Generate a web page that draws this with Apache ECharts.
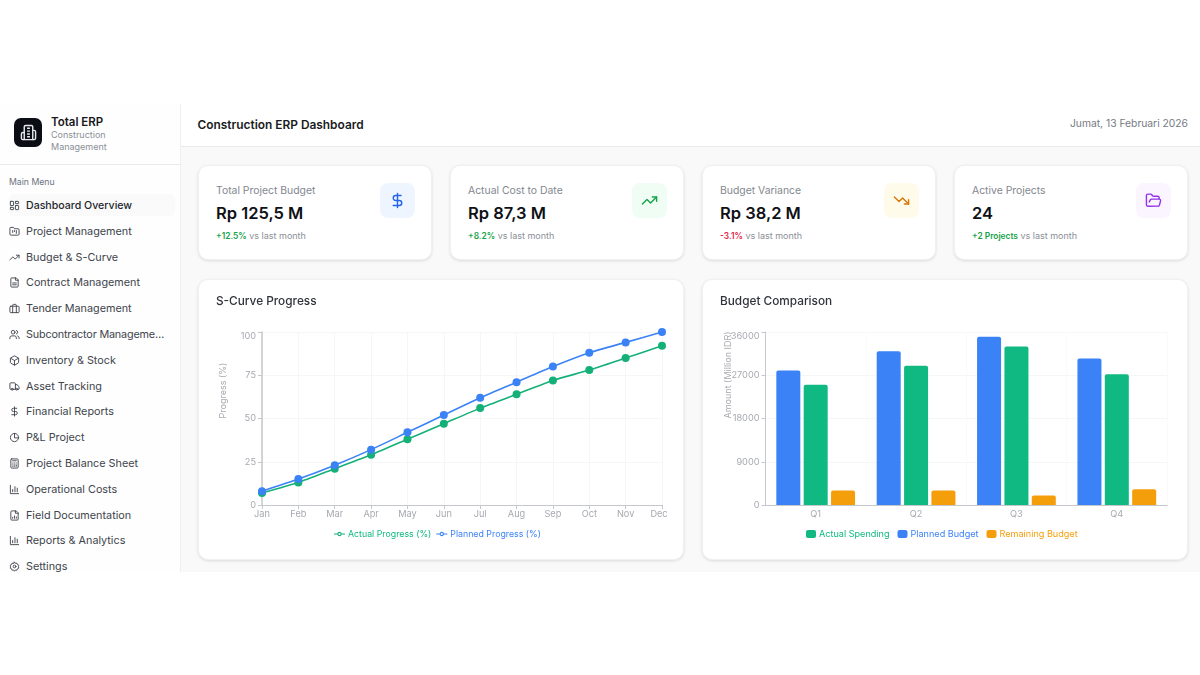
<!DOCTYPE html>
<html><head><meta charset="utf-8">
<script src="https://cdn.jsdelivr.net/npm/echarts@6/dist/echarts.min.js"></script>
<style>
*{box-sizing:border-box}
html,body{margin:0;padding:0;width:1200px;height:675px;background:#fff;overflow:hidden;font-family:Inter,"Noto Sans",sans-serif}
#app{position:absolute;left:0;top:104px;width:1200px;height:468px;overflow:hidden;background:#f9f9fa}
#side{position:absolute;left:0;top:0;width:181px;height:468px;background:#fefefe;border-right:1px solid #eeeff1}
#brand{position:absolute;left:0;top:0;width:180px;height:61px;border-bottom:1px solid #e9eaec}
#logo{position:absolute;left:14px;top:14px;width:28px;height:29px;background:#0b0d14;border-radius:7px;display:flex;align-items:center;justify-content:center}
#bt{position:absolute;left:51px;top:11px;font-size:11.5px;font-weight:600;color:#16181d}
#bs{position:absolute;left:51px;top:25px;font-size:9px;line-height:11.5px;color:#8b8f97;width:90px}
#mm{position:absolute;left:9px;top:73px;font-size:8.7px;color:#6b7280}
.mi{position:absolute;left:9px;width:166px;height:22px;display:flex;align-items:center;font-size:10.8px;color:#40444c;white-space:nowrap}
.mi.on{background:#fafafa;border-radius:5px;font-weight:500;font-size:10.6px;color:#24272e}
.mi svg{margin-left:0;margin-right:6px;flex:none;width:11px;height:11px}
#head{position:absolute;left:181px;top:0;width:1019px;height:43px;background:#fff;border-bottom:1px solid #e9eaec}
#ht{position:absolute;left:16.5px;top:12.5px;font-size:11.9px;font-weight:600;color:#181a20}
#hd{position:absolute;right:12px;top:13px;font-size:10.3px;color:#777b84}
.card{position:absolute;background:#fff;border-radius:10px;border:1px solid #f0f1f3;box-shadow:0 1px 3px rgba(0,0,0,.12)}
.kl{position:absolute;left:17px;top:17.5px;font-size:10.4px;color:#83878f;white-space:nowrap}
.kv{position:absolute;left:17px;top:37px;font-size:16.5px;font-weight:600;color:#0f1116;white-space:nowrap}
.kd{position:absolute;left:17px;top:64px;font-size:9px;color:#8b8f97;white-space:nowrap}
.kd b{font-weight:600;font-size:8.4px}
.ki{position:absolute;left:181px;top:17px;width:35px;height:35px;border-radius:8px;display:flex;align-items:center;justify-content:center}
.ct{position:absolute;left:17px;top:14px;font-size:11.8px;font-weight:500;color:#30333a;white-space:nowrap;z-index:2}
.ch{position:absolute;left:-1px;top:-1px;width:486px;height:281px}
</style></head><body>
<div id="app">
 <div id="side">
  <div id="brand">
   <div id="logo"><svg width="17" height="17" viewBox="0 0 24 24" fill="none" stroke="#e5e7eb" stroke-width="2"><path d="M6 22V4a2 2 0 0 1 2-2h8a2 2 0 0 1 2 2v18Z"/><path d="M6 12H4a2 2 0 0 0-2 2v6a2 2 0 0 0 2 2h2"/><path d="M18 9h2a2 2 0 0 1 2 2v9a2 2 0 0 1-2 2h-2"/><path d="M10 6h4M10 10h4M10 14h4M10 18h4"/></svg></div>
   <div id="bt">Total ERP</div>
   <div id="bs">Construction<br>Management</div>
  </div>
  <div id="mm">Main Menu</div>
  <div id="menu"></div>
 </div>
 <div id="head"><div id="ht">Construction ERP Dashboard</div><div id="hd">Jumat, 13 Februari 2026</div></div>
 <div id="cards"></div>
 <div class="card" style="left:198px;top:175px;width:486px;height:281px"><div class="ct">S-Curve Progress</div><div class="ch" id="c1"></div></div>
 <div class="card" style="left:702px;top:175px;width:486px;height:281px"><div class="ct">Budget Comparison</div><div class="ch" id="c2"></div></div>
</div>
<script>
// ---- chart data ----
const months = ['Jan','Feb','Mar','Apr','May','Jun','Jul','Aug','Sep','Oct','Nov','Dec'];
const actualProgress  = [7,13,21,29,38,47,56,64,72,78,85,92];
const plannedProgress = [8,15,23,32,42,52,62,71,80,88,94,100];
const quarters = ['Q1','Q2','Q3','Q4'];
const plannedBudget   = [28000,32000,35000,30500];
const actualSpending  = [25000,29000,33000,27200];
const remainingBudget = [3000,3000,2000,3300];
// ---- page text ----
const menuItems = ['Dashboard Overview','Project Management','Budget & S-Curve','Contract Management','Tender Management','Subcontractor Manageme…','Inventory & Stock','Asset Tracking','Financial Reports','P&L Project','Project Balance Sheet','Operational Costs','Field Documentation','Reports & Analytics','Settings'];
const kpiLabels = ['Total Project Budget','Actual Cost to Date','Budget Variance','Active Projects'];
const kpiValues = ['Rp 125,5 M','Rp 87,3 M','Rp 38,2 M','24'];
const kpiDeltas = ['+12.5%','+8.2%','-3.1%','+2 Projects'];
const kpiDeltaColors = ['#16a34a','#16a34a','#e11d48','#16a34a'];
const kpiIconBg = ['#eff5ff','#f0fdf4','#fffbeb','#faf5ff'];
const kpiIconColor = ['#2563eb','#16a34a','#d97706','#9333ea'];
const kpiIcons = [
 '<path d="M12 2v20M17 5H9.5a3.5 3.5 0 0 0 0 7h5a3.5 3.5 0 0 1 0 7H6"/>',
 '<path d="m22 7-8.5 8.5-5-5L2 17"/><path d="M16 7h6v6"/>',
 '<path d="m22 17-8.5-8.5-5 5L2 7"/><path d="M16 17h6v-6"/>',
 '<path d="m6 14 1.5-2.9A2 2 0 0 1 9.24 10H20a2 2 0 0 1 1.94 2.5l-1.54 6a2 2 0 0 1-1.95 1.5H4a2 2 0 0 1-2-2V5a2 2 0 0 1 2-2h3.9a2 2 0 0 1 1.69.9l.81 1.2a2 2 0 0 0 1.67.9H18a2 2 0 0 1 2 2v2"/>'
];
const menuIcons = [
 '<rect x="3" y="3" width="7" height="9" rx="1"/><rect x="14" y="3" width="7" height="5" rx="1"/><rect x="14" y="12" width="7" height="9" rx="1"/><rect x="3" y="16" width="7" height="5" rx="1"/>',
 '<path d="M20 20a2 2 0 0 0 2-2V8a2 2 0 0 0-2-2h-8l-2-3H4a2 2 0 0 0-2 2v13a2 2 0 0 0 2 2Z"/><path d="M8 10v4M12 10v2M16 10v6"/>',
 '<path d="m22 7-8.5 8.5-5-5L2 17"/><path d="M16 7h6v6"/>',
 '<path d="M15 2H6a2 2 0 0 0-2 2v16a2 2 0 0 0 2 2h12a2 2 0 0 0 2-2V7Z"/><path d="M14 2v5h6M8 13h8M8 17h8"/>',
 '<rect x="2" y="7" width="20" height="14" rx="2"/><path d="M16 21V5a2 2 0 0 0-2-2h-4a2 2 0 0 0-2 2v16"/>',
 '<path d="M16 21v-2a4 4 0 0 0-4-4H6a4 4 0 0 0-4 4v2"/><circle cx="9" cy="7" r="4"/><path d="M22 21v-2a4 4 0 0 0-3-3.87M16 3.13a4 4 0 0 1 0 7.75"/>',
 '<path d="M21 8a2 2 0 0 0-1-1.73l-7-4a2 2 0 0 0-2 0l-7 4A2 2 0 0 0 3 8v8a2 2 0 0 0 1 1.73l7 4a2 2 0 0 0 2 0l7-4A2 2 0 0 0 21 16Z"/><path d="m3.3 7 8.7 5 8.7-5M12 22V12"/>',
 '<path d="M14 18V6a2 2 0 0 0-2-2H4a2 2 0 0 0-2 2v11a1 1 0 0 0 1 1h2M15 18H9M19 18h2a1 1 0 0 0 1-1v-3.65a1 1 0 0 0-.22-.62l-3.48-4.35A1 1 0 0 0 17.52 8H14"/><circle cx="17" cy="18" r="2"/><circle cx="7" cy="18" r="2"/>',
 '<path d="M12 2v20M17 5H9.5a3.5 3.5 0 0 0 0 7h5a3.5 3.5 0 0 1 0 7H6"/>',
 '<path d="M21 12a9 9 0 1 1-9-9"/><path d="M21 12a9 9 0 0 0-9-9v9Z"/>',
 '<rect x="4" y="2" width="16" height="20" rx="2"/><path d="M8 6h8M8 11h1M12 11h1M16 11h.01M8 15h1M12 15h1M16 15v3M8 18h1M12 18h1"/>',
 '<path d="M3 3v18h18M8 17v-5M13 17V6M18 17v-8"/>',
 '<path d="M15 2H6a2 2 0 0 0-2 2v16a2 2 0 0 0 2 2h12a2 2 0 0 0 2-2V7Z"/><path d="M14 2v5h6M8 18v-2M12 18v-5M16 18v-3"/>',
 '<path d="M3 3v18h18M8 17v-5M13 17V6M18 17v-8"/>',
 '<circle cx="12" cy="12" r="3"/><path d="M12 2.5l2 2.6 3.3-.4 1.1 3.1 3 1.4-.9 3.2.9 3.2-3 1.4-1.1 3.1-3.3-.4-2 2.6-2-2.6-3.3.4-1.1-3.1-3-1.4.9-3.2-.9-3.2 3-1.4 1.1-3.1 3.3.4Z"/>'
];
const ns = c => `viewBox="0 0 24 24" fill="none" stroke="${c}" stroke-width="2" stroke-linecap="round" stroke-linejoin="round"`;
const menuTops = [92,118,144,169,195,221,247,273,298,324,350,376,402,427,453];
document.getElementById('menu').innerHTML = menuItems.map((m,i)=>
 `<div class="mi${i?'':' on'}" style="top:${menuTops[i]-2}px"><svg ${ns('#40444c')}>${menuIcons[i]}</svg><span${i===5?' style="letter-spacing:-.17px"':''}>${m.replace('&','&amp;')}</span></div>`).join('');
const cardLefts = [198,450,702,954];
document.getElementById('cards').innerHTML = kpiLabels.map((l,i)=>
 `<div class="card" style="left:${cardLefts[i]}px;top:61px;width:234px;height:95px">
  <div class="kl">${l}</div><div class="kv">${kpiValues[i]}</div>
  <div class="kd"><b style="color:${kpiDeltaColors[i]}">${kpiDeltas[i]}</b> vs last month</div>
  <div class="ki" style="background:${kpiIconBg[i]}"><svg width="17" height="17" ${ns(kpiIconColor[i])}>${kpiIcons[i]}</svg></div>
 </div>`).join('');

const font = 'Inter';
const axisColor = '#c4c7cc', labelColor = '#a6a9af', splitColor = '#f6f6f7';
const GREEN='#10b981', GREEN2='#14b077', BLUE='#3b82f6', ORANGE='#f59e0b';
const axisLabel = {color:labelColor,fontFamily:font,fontSize:9.2};
const ringIcon = 'path://M0 45H30A21 21 0 0 1 70 45H100V55H70A21 21 0 0 1 30 55H0Z M40 50A10 10 0 0 0 60 50A10 10 0 0 0 40 50Z';

const c1 = echarts.init(document.getElementById('c1'),null,{renderer:'canvas'});
c1.setOption({
 animation:false,
 grid:{left:64,right:22,top:53,bottom:55},
 legend:{left:131,top:245.5,itemWidth:11,itemHeight:6,itemGap:5,icon:ringIcon,
  data:[{name:'Actual Progress (%)',textStyle:{color:GREEN}},{name:'Planned Progress (%)',textStyle:{color:BLUE}}],
  textStyle:{fontFamily:font,fontSize:8.8,padding:[0,0,0,-2]}},
 xAxis:{type:'category',data:months,boundaryGap:false,
  axisLine:{lineStyle:{color:axisColor}},axisTick:{interval:0,lineStyle:{color:axisColor},length:4},
  axisLabel:{...axisLabel,margin:5,interval:0,
   formatter:v=>v===months[months.length-1]?`{last|${v}}`:v,
   rich:{last:{color:labelColor,fontFamily:font,fontSize:9.2,padding:[0,6,0,0]}}},
  splitLine:{show:true,interval:0,lineStyle:{color:splitColor}}},
 yAxis:{type:'value',min:0,max:100,interval:25,
  name:'Progress (%)',nameLocation:'middle',nameGap:34,
  nameTextStyle:{color:labelColor,fontFamily:font,fontSize:9,align:'left'},
  axisLine:{show:true,lineStyle:{color:axisColor,width:1.5}},axisTick:{show:true,lineStyle:{color:axisColor},length:4},
  axisLabel:{...axisLabel,margin:6,verticalAlignMaxLabel:'top'},splitLine:{lineStyle:{color:splitColor}}},
 series:[
  {name:'Actual Progress (%)',type:'line',data:actualProgress,smooth:0.2,symbol:'circle',symbolSize:8,clip:false,
   lineStyle:{color:GREEN2,width:1.6},itemStyle:{color:GREEN2}},
  {name:'Planned Progress (%)',type:'line',data:plannedProgress,smooth:0.2,symbol:'circle',symbolSize:8,clip:false,
   lineStyle:{color:BLUE,width:1.6},itemStyle:{color:BLUE}}
 ]
});

const c2 = echarts.init(document.getElementById('c2'),null,{renderer:'canvas'});
const bar = (name,data,color)=>({name,type:'bar',data,barWidth:24,barGap:'14%',itemStyle:{color,borderRadius:[2,2,0,0]}});
c2.setOption({
 animation:false,
 grid:{left:63.5,right:21,top:53,bottom:55},
 legend:{left:99,top:245.5,itemWidth:10,itemHeight:8,itemGap:8,icon:'roundRect',
  data:[{name:'Actual Spending',textStyle:{color:GREEN}},{name:'Planned Budget',textStyle:{color:BLUE}},{name:'Remaining Budget',textStyle:{color:ORANGE}}],
  textStyle:{fontFamily:font,fontSize:9.1,padding:[0,0,0,-2]}},
 xAxis:{type:'category',data:quarters,
  axisLine:{lineStyle:{color:axisColor}},axisTick:{show:false},
  axisLabel:{...axisLabel,margin:5},splitLine:{show:true,lineStyle:{color:'#fafafa'}}},
 yAxis:{type:'value',min:0,max:36000,interval:9000,
  name:'Amount (Million IDR)',nameLocation:'middle',nameGap:33,nameMoveOverlap:false,
  nameTextStyle:{color:labelColor,fontFamily:font,fontSize:9,align:'left'},
  axisLine:{show:true,lineStyle:{color:axisColor}},axisTick:{show:true,lineStyle:{color:axisColor},length:4},
  axisLabel:{...axisLabel,margin:6,verticalAlignMaxLabel:'top',formatter:v=>String(v)},splitLine:{lineStyle:{color:splitColor}}},
 series:[bar('Planned Budget',plannedBudget,BLUE),bar('Actual Spending',actualSpending,GREEN),bar('Remaining Budget',remainingBudget,ORANGE)]
});
</script>
</body></html>
